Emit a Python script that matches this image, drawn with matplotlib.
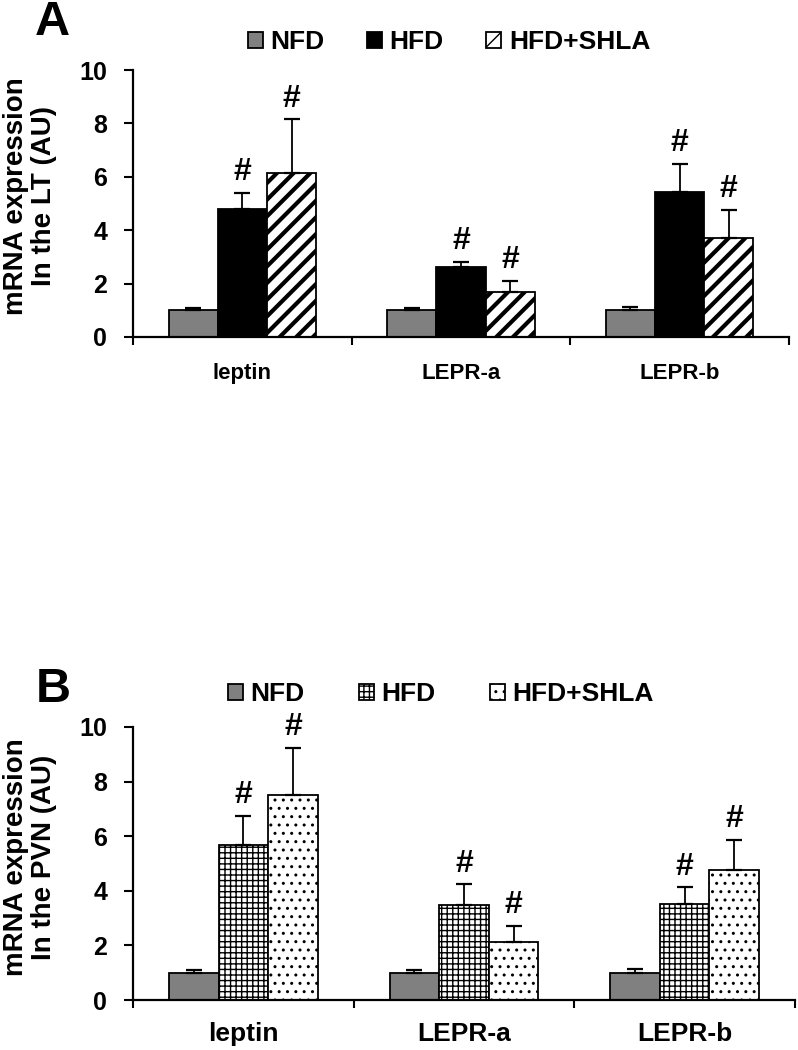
import numpy as np
import matplotlib
matplotlib.use("Agg")
import matplotlib.pyplot as plt
from matplotlib.patches import Patch

plt.rcParams['font.family'] = ['Liberation Sans', 'DejaVu Sans']
plt.rcParams['font.weight'] = 'bold'

categories = ['leptin', 'LEPR-a', 'LEPR-b']
groups = ['NFD', 'HFD', 'HFD+SHLA']

# Panel A (LT)
lt_nfd = [1.0, 1.0, 1.0]
lt_nfd_err = [0.10, 0.07, 0.13]
lt_hfd = [4.78, 2.61, 5.42]
lt_hfd_err = [0.62, 0.21, 1.07]
lt_shla = [6.15, 1.70, 3.71]
lt_shla_err = [2.01, 0.41, 1.05]
lt_sig = [[False, False, False], [True, True, True], [True, True, True]]

# Panel B (PVN)
pvn_nfd = [1.0, 1.0, 1.0]
pvn_nfd_err = [0.10, 0.11, 0.15]
pvn_hfd = [5.66, 3.48, 3.51]
pvn_hfd_err = [1.09, 0.76, 0.62]
pvn_shla = [7.50, 2.14, 4.77]
pvn_shla_err = [1.74, 0.57, 1.09]
pvn_sig = [[False, False, False], [True, True, True], [True, True, True]]

yticks = [0, 2, 4, 6, 8, 10]

W, H = 798, 1050
fig = plt.figure(figsize=(W / 100, H / 100), dpi=100)


def px_axes(l, r, t, b):
    return fig.add_axes([l / W, 1 - b / H, (r - l) / W, (b - t) / H])


def set_hlw(p, lw):
    if hasattr(p, 'set_hatch_linewidth'):
        p.set_hatch_linewidth(lw)


def draw_panel(ax, vals, errs, sig, styles, cat_fs, cat_pad):
    x = np.arange(len(categories))
    w = 0.225
    offsets = [-w, 0, w]
    for gi in range(3):
        st = styles[gi]
        bars = ax.bar(x + offsets[gi], vals[gi], width=w, color=st['fc'],
                      edgecolor='black', linewidth=1.3, hatch=st['hatch'],
                      zorder=2)
        for b in bars:
            set_hlw(b, st['hlw'])
        ax.errorbar(x + offsets[gi], vals[gi],
                    yerr=[np.zeros(len(x)), errs[gi]], fmt='none',
                    ecolor='black', elinewidth=1.3, capsize=6, capthick=1.6,
                    zorder=3)
        for ci in range(len(x)):
            if sig[gi][ci]:
                ax.annotate('#', (x[ci] + offsets[gi], vals[gi][ci] + errs[gi][ci]),
                            xytext=(0, 4), textcoords='offset points',
                            ha='center', va='bottom', fontsize=23,
                            fontweight='bold')
    ax.set_xlim(-0.5, 2.5)
    ax.set_ylim(0, 10)
    ax.set_yticks(yticks)
    ax.set_yticklabels([str(t) for t in yticks])
    ax.tick_params(axis='y', direction='out', length=6.5, width=1.5,
                   labelsize=18, pad=12)
    ax.set_xticks([-0.5, 0.5, 1.5, 2.5])
    ax.set_xticklabels([])
    ax.tick_params(axis='x', which='major', direction='out', length=5.5,
                   width=1.5)
    ax.set_xticks(x, minor=True)
    ax.set_xticklabels(categories, minor=True, fontsize=cat_fs,
                       fontweight='bold')
    ax.tick_params(axis='x', which='minor', length=0, pad=cat_pad)
    for s in ['top', 'right']:
        ax.spines[s].set_visible(False)
    for s in ['left', 'bottom']:
        ax.spines[s].set_linewidth(1.6)
    for lab in ax.get_yticklabels():
        lab.set_fontweight('bold')


stylesA = [dict(fc='#808080', hatch=None, hlw=1.0),
           dict(fc='black', hatch=None, hlw=1.0),
           dict(fc='white', hatch='//', hlw=3.0)]
stylesB = [dict(fc='#808080', hatch=None, hlw=1.0),
           dict(fc='white', hatch='+++', hlw=1.0),
           dict(fc='white', hatch='..', hlw=1.0)]

axA = px_axes(133, 789, 70, 337)
draw_panel(axA, [lt_nfd, lt_hfd, lt_shla], [lt_nfd_err, lt_hfd_err, lt_shla_err],
           lt_sig, stylesA, 16, 19)

axB = px_axes(133, 795, 727, 1000)
draw_panel(axB, [pvn_nfd, pvn_hfd, pvn_shla],
           [pvn_nfd_err, pvn_hfd_err, pvn_shla_err], pvn_sig, stylesB, 19, 16)


def add_legend(styles, left_px, cy_px, colsp, legend_hatch):
    handles = []
    for st, h in zip(styles, legend_hatch):
        p = Patch(facecolor=st['fc'], edgecolor='black', linewidth=1.3,
                  hatch=h)
        set_hlw(p, 1.5)
        handles.append(p)
    leg = fig.legend(handles, groups, loc='center left',
                     bbox_to_anchor=(left_px / W, 1 - cy_px / H), ncol=3,
                     frameon=False, handlelength=0.56,
                     handleheight=0.56, handletextpad=0.3,
                     columnspacing=colsp, borderpad=0, borderaxespad=0,
                     prop={'weight': 'bold', 'size': 19})
    return leg


add_legend(stylesA, 248, 42, 1.6, [None, None, '/'])
add_legend(stylesB, 228, 694, 2.05, [None, '+++', '..'])

# y labels
fig.text(30 / W, 1 - 196 / H, 'mRNA expression\nIn the LT (AU)', rotation=90,
         ha='center', va='center', fontsize=20, fontweight='bold',
         linespacing=1.1, multialignment='center')
fig.text(30 / W, 1 - 857 / H, 'mRNA expression\nIn the PVN (AU)', rotation=90,
         ha='center', va='center', fontsize=20, fontweight='bold',
         linespacing=1.1, multialignment='center')

# panel letters
fig.text(35 / W, 1 - 35 / H, 'A', fontsize=35, fontweight='bold',
         ha='left', va='baseline')
fig.text(36 / W, 1 - 702 / H, 'B', fontsize=35, fontweight='bold',
         ha='left', va='baseline')

fig.savefig('out.png', dpi=100)
